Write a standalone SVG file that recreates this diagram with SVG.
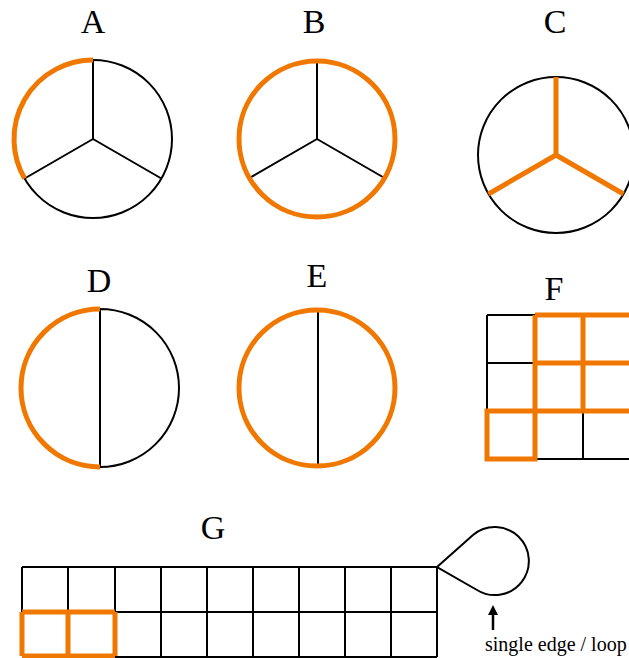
<svg xmlns="http://www.w3.org/2000/svg" width="629" height="658" viewBox="0 0 629 658">
<style>
.k{fill:none;stroke:#000;stroke-width:2}
.o{fill:none;stroke:#f07800;stroke-width:5}
.lbl{font-family:"Liberation Serif","Times New Roman",serif;font-size:34px;fill:#000;text-anchor:middle}
.cap{font-family:"Liberation Serif","Times New Roman",serif;font-size:20px;fill:#000}
</style>
<g id="A">
<text class="lbl" x="93" y="33">A</text>
<circle class="k" cx="93" cy="139" r="79"/>
<path class="k" d="M93,139 V60 M93,139 L24.6,178.5 M93,139 L161.4,178.5"/>
<path class="o" d="M93,60 A79,79 0 0 0 24.6,178.5"/>
</g>
<g id="B">
<text class="lbl" x="314" y="33">B</text>
<path class="k" d="M317,139 V61 M317,139 L249.5,178 M317,139 L384.5,178"/>
<circle class="o" cx="317" cy="139" r="78"/>
</g>
<g id="C">
<text class="lbl" x="555" y="33">C</text>
<circle class="k" cx="556" cy="155" r="78"/>
<path class="o" d="M556,155 V77 M556,155 L488.5,194 M556,155 L623.5,194"/>
</g>
<g id="D">
<text class="lbl" x="99" y="292">D</text>
<path class="k" d="M100,309 A79,79 0 0 1 100,467 Z"/>
<path class="o" d="M100,309 A79,79 0 0 0 100,467"/>
</g>
<g id="E">
<text class="lbl" x="317" y="287">E</text>
<path class="k" d="M318,310 V466"/>
<circle class="o" cx="317" cy="388" r="78"/>
</g>
<g id="F">
<text class="lbl" x="554" y="300">F</text>
<path class="k" d="M487,315 H535 M487,363 H535 M487,315 V411 M535,459 H631 M583,411 V459"/>
<path class="o" d="M535,315 H631 M535,363 H631 M535,411 H631 M535,315 V411 M583,315 V411 M487,411 h48 v48 h-48 Z"/>
</g>
<g id="G">
<text class="lbl" x="213" y="539">G</text>
<path class="k" d="M22,567 H437 M22,612 H437 M115,657 H437 M22,567 V612 M68,567 V612 M115,567 V657 M161,567 V657 M207,567 V657 M253,567 V657 M299,567 V657 M345,567 V657 M391,567 V657 M437,567 V657"/>
<path class="o" d="M22,612 H115 M22,656 H115 M22,612 V656 M68,612 V656 M115,612 V656"/>
</g>
<g id="loop">
<path class="k" d="M437,567 L473,535 A34,34 0 1 1 477,590 Z"/>
</g>
<g id="note">
<path d="M493,630 V613" stroke="#000" stroke-width="2.5" fill="none"/>
<path d="M488,615 L493,605 L498,615 Z" fill="#000"/>
<text class="cap" x="485" y="651">single edge / loop</text>
</g>
</svg>
